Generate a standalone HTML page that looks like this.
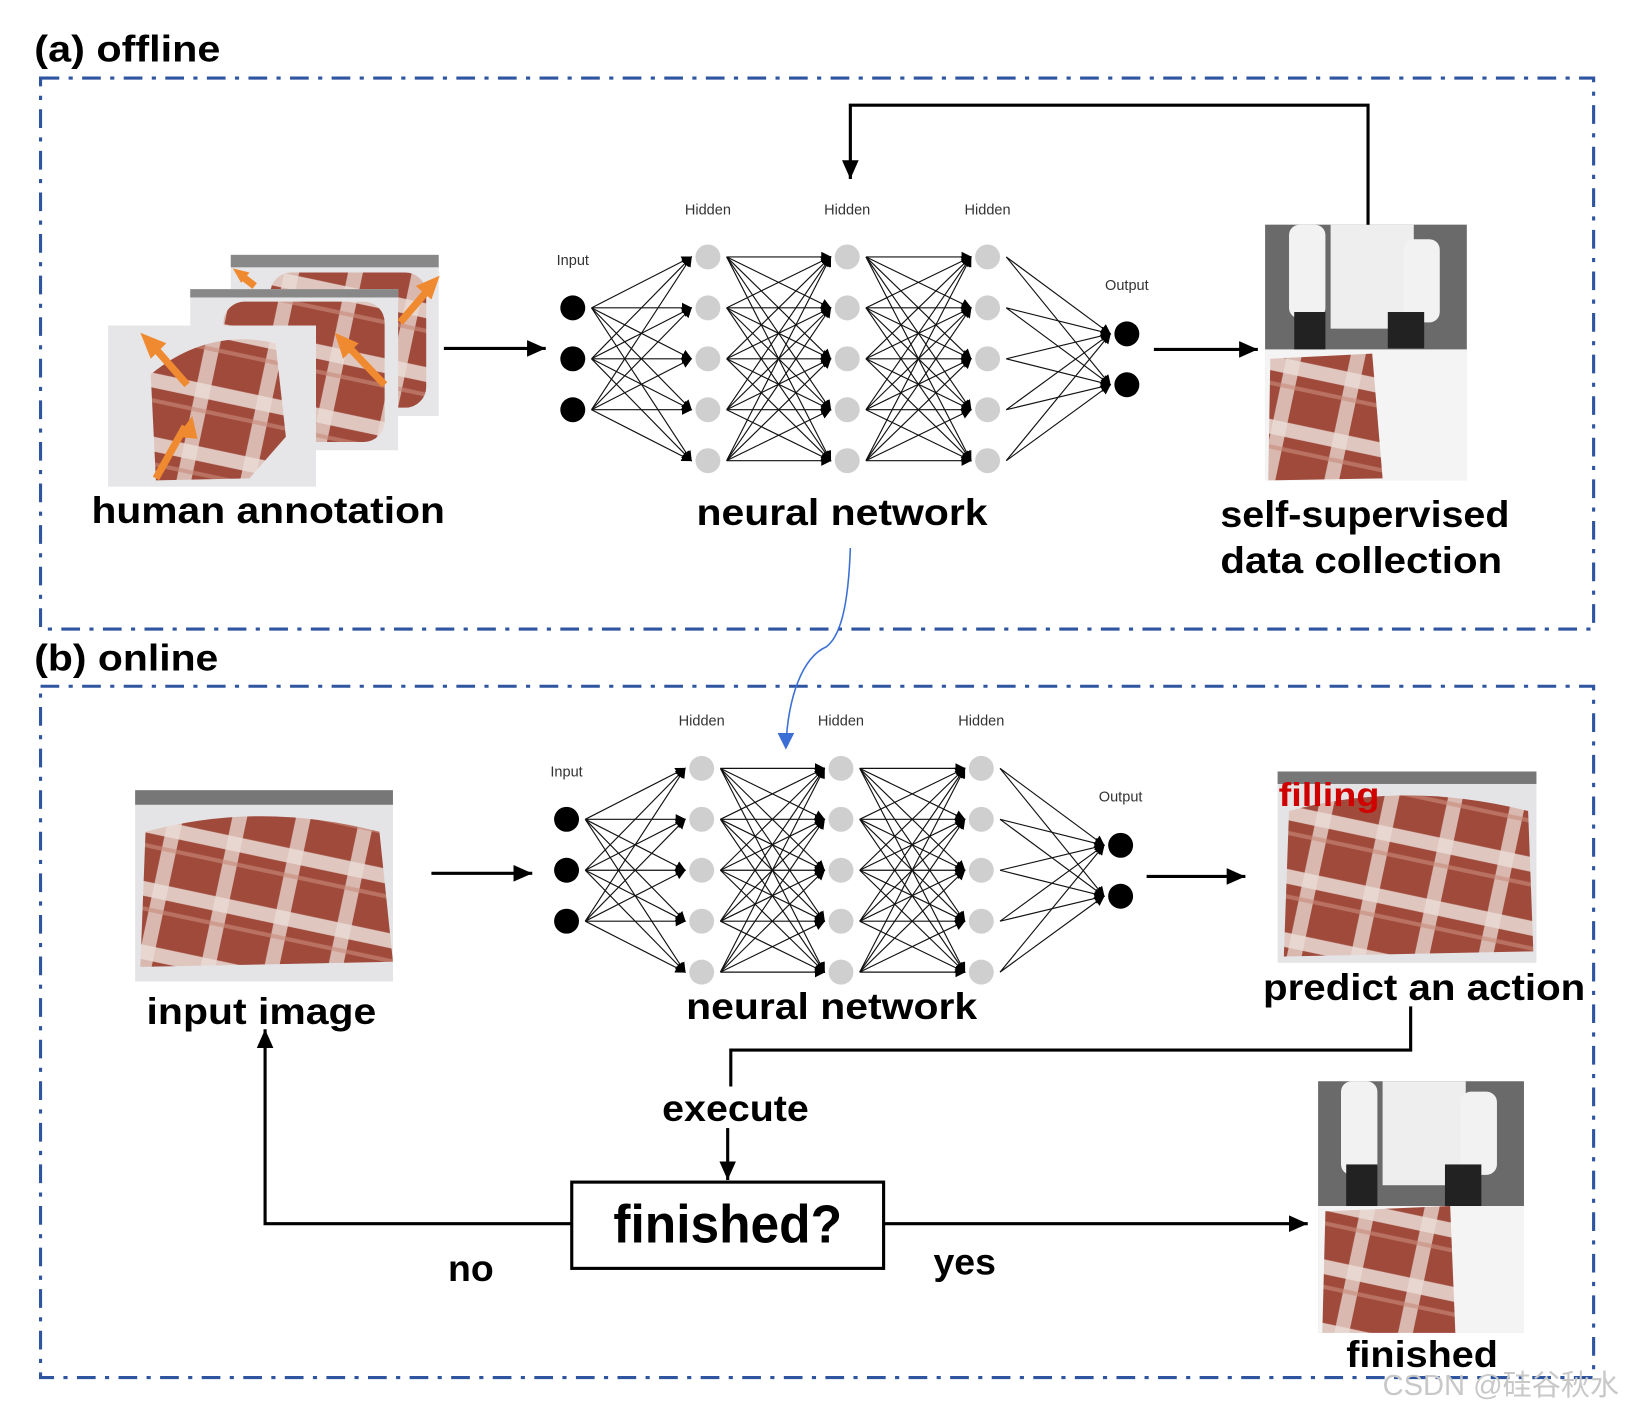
<!DOCTYPE html>
<html><head><meta charset="utf-8"><style>
html,body{margin:0;padding:0;background:#fff;}
svg{display:block;}
text{font-family:"Liberation Sans","Noto Sans CJK SC",sans-serif;}
.b{font-weight:bold;fill:#000;}
.s{font-size:14px;fill:#333;}
</style></head><body>
<svg id="g" width="1630" height="1412" viewBox="0 0 1568 1358" xmlns="http://www.w3.org/2000/svg">
<defs>
<marker id="ah" markerWidth="10" markerHeight="10" refX="9" refY="5" orient="auto" markerUnits="userSpaceOnUse"><path d="M0,0 L10,5 L0,10 z" fill="#000"/></marker>
<marker id="big" markerWidth="20" markerHeight="20" refX="18" refY="10" orient="auto" markerUnits="userSpaceOnUse"><path d="M0,2 L18,10 L0,18 z" fill="#000"/></marker>
<pattern id="plaid" width="60" height="60" patternUnits="userSpaceOnUse" patternTransform="rotate(12)">
<rect width="60" height="60" fill="#a04a3c"/>
<rect x="0" y="20" width="60" height="14" fill="#eadcd5" opacity=".85"/>
<rect x="22" y="0" width="14" height="60" fill="#eadcd5" opacity=".75"/>
<rect x="0" y="44" width="60" height="4" fill="#c98a7a" opacity=".6"/>
</pattern>
</defs>
<g fill="none" stroke="#2f55a0" stroke-width="3" stroke-dasharray="18,9,4,9">
<rect x="39" y="75" width="1494" height="530"/>
<rect x="39" y="660" width="1494" height="665"/>
</g>
<text x="33" y="59" class="b" font-size="36" textLength="179" lengthAdjust="spacingAndGlyphs">(a) offline</text>
<text x="33" y="645" class="b" font-size="36" textLength="177" lengthAdjust="spacingAndGlyphs">(b) online</text>

<rect x="222" y="245" width="200" height="155" fill="#e6e6e8"/><rect x="222" y="245" width="200" height="12" fill="#888"/>
<rect x="260" y="262" width="150" height="130" fill="url(#plaid)" rx="20"/>
<rect x="183" y="278" width="200" height="155" fill="#e6e6e8"/><rect x="183" y="278" width="200" height="8" fill="#888"/>
<rect x="215" y="290" width="155" height="135" fill="url(#plaid)" rx="20"/>
<rect x="104" y="313" width="200" height="155" fill="#e6e6e8"/>
<path d="M145,360 Q200,315 265,330 L275,420 L240,460 L150,462 Z" fill="url(#plaid)"/>
<g stroke="#f08a30" stroke-width="7" fill="none">
<line x1="180" y1="370" x2="145" y2="330"/><line x1="150" y1="460" x2="178" y2="410"/>
<line x1="370" y1="370" x2="332" y2="330"/><line x1="385" y1="310" x2="415" y2="275"/><line x1="245" y1="275" x2="232" y2="265"/>
</g>
<g fill="#f08a30"><polygon points="135,320 160,330 145,345"/><polygon points="185,400 170,420 190,422"/><polygon points="322,320 345,330 330,345"/><polygon points="423,265 400,275 415,288"/><polygon points="224,258 240,262 232,272"/></g>
<text x="88" y="503" class="b" font-size="36" textLength="340" lengthAdjust="spacingAndGlyphs">human annotation</text>
<line x1="427" y1="335" x2="525" y2="335" stroke="#000" stroke-width="3" marker-end="url(#big)"/>

<g id="nn1"></g><g id="nn2"></g>
<text x="670" y="505" class="b" font-size="36" textLength="280" lengthAdjust="spacingAndGlyphs">neural network</text>
<line x1="1110" y1="336" x2="1210" y2="336" stroke="#000" stroke-width="3" marker-end="url(#big)"/>

<rect x="1217" y="216" width="194" height="246" fill="#d8d8d8"/>
<rect x="1217" y="216" width="194" height="120" fill="#6a6a6a"/>
<rect x="1280" y="216" width="80" height="100" fill="#eee"/>
<rect x="1240" y="216" width="35" height="90" fill="#f2f2f2" rx="10"/><rect x="1350" y="230" width="35" height="80" fill="#f2f2f2" rx="10"/>
<rect x="1245" y="300" width="30" height="40" fill="#222"/><rect x="1335" y="300" width="35" height="35" fill="#222"/>
<rect x="1217" y="336" width="194" height="126" fill="#f4f4f4"/>
<path d="M1222,345 L1320,340 L1330,460 L1220,462 Z" fill="url(#plaid)"/>
<text x="1174" y="507" class="b" font-size="36" textLength="278" lengthAdjust="spacingAndGlyphs">self-supervised</text>
<text x="1174" y="551" class="b" font-size="36" textLength="271" lengthAdjust="spacingAndGlyphs">data collection</text>
<polyline points="1316,216 1316,101 818,101 818,172" fill="none" stroke="#000" stroke-width="3" marker-end="url(#big)"/>

<path d="M818,527 C816,585 808,612 795,622 C772,632 758,670 756,718" fill="none" stroke="#3b6fd6" stroke-width="1.5"/>
<polygon points="748,705 764,705 756,721" fill="#3b6fd6"/>

<rect x="130" y="760" width="248" height="184" fill="#e4e4e6"/><rect x="130" y="760" width="248" height="14" fill="#777"/>
<path d="M140,800 Q250,770 365,800 L378,925 L135,930 Z" fill="url(#plaid)"/>
<text x="141" y="985" class="b" font-size="36" textLength="221" lengthAdjust="spacingAndGlyphs">input image</text>
<line x1="415" y1="840" x2="512" y2="840" stroke="#000" stroke-width="3" marker-end="url(#big)"/>
<text x="660" y="980" class="b" font-size="36" textLength="280" lengthAdjust="spacingAndGlyphs">neural network</text>
<line x1="1103" y1="843" x2="1198" y2="843" stroke="#000" stroke-width="3" marker-end="url(#big)"/>

<rect x="1229" y="742" width="249" height="184" fill="#e4e4e6"/><rect x="1229" y="742" width="249" height="12" fill="#777"/>
<path d="M1240,780 Q1350,750 1470,780 L1475,915 L1235,920 Z" fill="url(#plaid)"/>
<text x="1230" y="775" font-size="32" font-weight="bold" fill="#d00000" textLength="97" lengthAdjust="spacingAndGlyphs">filling</text>
<text x="1215" y="962" class="b" font-size="36" textLength="310" lengthAdjust="spacingAndGlyphs">predict an action</text>
<polyline points="1357,968 1357,1010 703,1010 703,1045" fill="none" stroke="#000" stroke-width="3"/>
<text x="637" y="1078" class="b" font-size="36" textLength="141" lengthAdjust="spacingAndGlyphs">execute</text>
<line x1="700" y1="1085" x2="700" y2="1135" stroke="#000" stroke-width="3" marker-end="url(#big)"/>
<rect x="550" y="1137" width="300" height="83" fill="#fff" stroke="#000" stroke-width="3"/>
<text x="590" y="1195" class="b" font-size="52" textLength="220" lengthAdjust="spacingAndGlyphs">finished?</text>
<polyline points="550,1177 255,1177 255,990" fill="none" stroke="#000" stroke-width="3" marker-end="url(#big)"/>
<text x="453" y="1232" class="b" font-size="36" text-anchor="middle">no</text>
<line x1="850" y1="1177" x2="1258" y2="1177" stroke="#000" stroke-width="3" marker-end="url(#big)"/>
<text x="928" y="1226" class="b" font-size="36" text-anchor="middle">yes</text>

<rect x="1268" y="1040" width="198" height="242" fill="#d8d8d8"/>
<rect x="1268" y="1040" width="198" height="120" fill="#6a6a6a"/>
<rect x="1330" y="1040" width="80" height="100" fill="#eee"/>
<rect x="1290" y="1040" width="35" height="90" fill="#f2f2f2" rx="10"/><rect x="1405" y="1050" width="35" height="80" fill="#f2f2f2" rx="10"/>
<rect x="1295" y="1120" width="30" height="45" fill="#222"/><rect x="1390" y="1120" width="35" height="40" fill="#222"/>
<rect x="1268" y="1160" width="198" height="122" fill="#f4f4f4"/>
<path d="M1275,1165 L1395,1160 L1400,1282 L1272,1282 Z" fill="url(#plaid)"/>
<text x="1295" y="1315" class="b" font-size="36" textLength="146" lengthAdjust="spacingAndGlyphs">finished</text>
<text x="1330" y="1342" font-size="28" fill="#c8c8c8">CSDN @硅谷秋水</text>
</svg>
<script>
function nn(id,dx,dy){
 var g=document.getElementById(id),h="";
 var L=[[551,[296,345,394]],[681,[247,296,345,394,443]],[815,[247,296,345,394,443]],[950,[247,296,345,394,443]],[1084,[321,370]]];
 for(var l=0;l<4;l++){var a=L[l],b=L[l+1];
  a[1].forEach(function(y1){b[1].forEach(function(y2){
   var x1=a[0]+18,x2=b[0]-16;
   h+='<line x1="'+(x1+dx)+'" y1="'+(y1+dy)+'" x2="'+(x2+dx)+'" y2="'+(y2+dy)+'" stroke="#111" stroke-width="1.1" marker-end="url(#ah)"/>';});});}
 L.forEach(function(c,i){c[1].forEach(function(y){
  h+='<circle cx="'+(c[0]+dx)+'" cy="'+(y+dy)+'" r="12" fill="'+((i==0||i==4)?'#000':'#cfcfcf')+'"/>';});});
 h+='<text class="s" x="'+(551+dx)+'" y="'+(255+dy)+'" text-anchor="middle">Input</text>';
 [681,815,950].forEach(function(x){h+='<text class="s" x="'+(x+dx)+'" y="'+(206+dy)+'" text-anchor="middle">Hidden</text>';});
 h+='<text class="s" x="'+(1084+dx)+'" y="'+(279+dy)+'" text-anchor="middle">Output</text>';
 g.innerHTML=h;}
nn("nn1",0,0);nn("nn2",-6,492);
</script>
</body></html>
